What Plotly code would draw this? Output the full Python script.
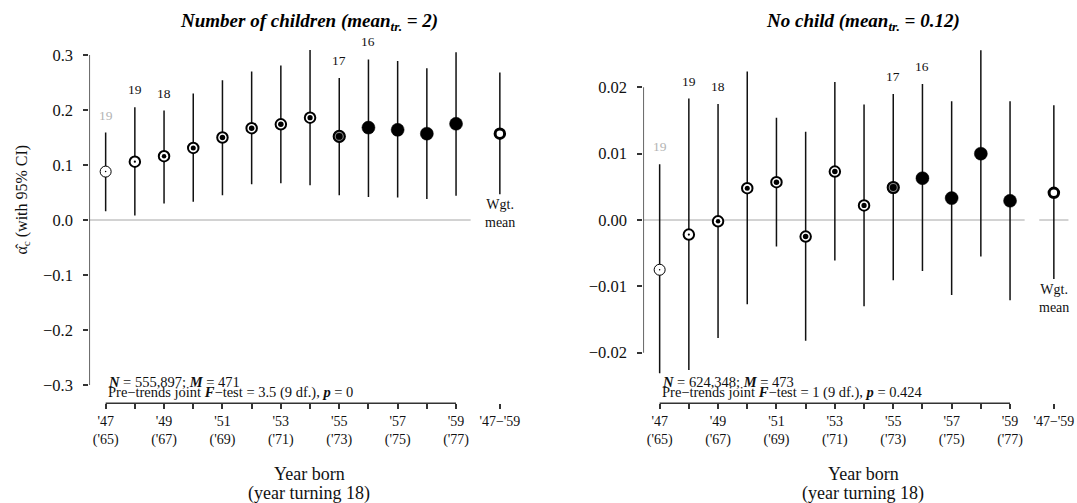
import plotly.graph_objects as go

W, H = 1077, 503

# ---- data -----------------------------------------------------------------
cohorts = list(range(13))                      # 1947 ... 1959
born_labels = ["'47", "'48", "'49", "'50", "'51", "'52", "'53",
               "'54", "'55", "'56", "'57", "'58", "'59"]
turn18_labels = ["('65)", "('66)", "('67)", "('68)", "('69)", "('70)", "('71)",
                 "('72)", "('73)", "('74)", "('75)", "('76)", "('77)"]
pooled_label = "'47\u2212'59"

# Number of children
kids_est = [0.088, 0.106, 0.116, 0.131, 0.150, 0.167, 0.174,
            0.186, 0.152, 0.168, 0.164, 0.157, 0.175]
kids_lo = [0.016, 0.008, 0.030, 0.033, 0.045, 0.065, 0.067,
           0.063, 0.045, 0.042, 0.041, 0.038, 0.044]
kids_hi = [0.159, 0.205, 0.199, 0.230, 0.254, 0.270, 0.281,
           0.309, 0.258, 0.292, 0.289, 0.276, 0.305]
kids_wgt = [0.157, 0.047, 0.268]               # estimate, lower, upper

# No child
nochild_est = [-0.0075, -0.0022, -0.0002, 0.0048, 0.0057, -0.0025, 0.0073,
               0.0022, 0.0049, 0.0063, 0.0033, 0.0100, 0.0029]
nochild_lo = [-0.0231, -0.0226, -0.0178, -0.0127, -0.0040, -0.0182, -0.0061,
              -0.0130, -0.0091, -0.0077, -0.0113, -0.0055, -0.0121]
nochild_hi = [0.0084, 0.0183, 0.0175, 0.0224, 0.0154, 0.0133, 0.0208,
              0.0174, 0.0190, 0.0205, 0.0179, 0.0256, 0.0179]
nochild_wgt = [0.0041, -0.0089, 0.0173]

# counts printed above selected cohorts
count_cohorts = [0, 1, 2, 8, 9]
count_text = ["19", "19", "18", "17", "16"]

kids_ticks = [-0.3, -0.2, -0.1, 0.0, 0.1, 0.2, 0.3]
kids_ticktext = ["\u22120.3", "\u22120.2", "\u22120.1", "0.0", "0.1", "0.2", "0.3"]
nochild_ticks = [-0.02, -0.01, 0.0, 0.01, 0.02]
nochild_ticktext = ["\u22120.02", "\u22120.01", "0.00", "0.01", "0.02"]

kids_stats = ["<b><i>N</i></b> = 555,897; <b><i>M</i></b> = 471",
              "Pre\u2212trends joint <b><i>F</i></b>\u2212test = 3.5 (9 df.), <b><i>p</i></b> = 0"]
nochild_stats = ["<b><i>N</i></b> = 624,348; <b><i>M</i></b> = 473",
                 "Pre\u2212trends joint <b><i>F</i></b>\u2212test = 1 (9 df.), <b><i>p</i></b> = 0.424"]

# ---- marker styling per cohort (ring + centre dot) -------------------------
ring_size = [11, 10.5, 10.5, 10.5, 10.5, 10.5, 10.5, 10.5, 12, 13, 13, 13, 13]
ring_fill = ["white"] * 8 + ["black"] * 5
ring_line = [1, 2, 2, 2, 2, 2, 2, 2, 1.2, 0.5, 0.5, 0.5, 0.5]
dot_size = [1.5, 2.2, 4.5, 5, 5.5, 5.5, 5.5, 5.2, 8, 0, 0, 0, 0]
dot_line_col = ["black"] * 8 + ["#8a8a8a"] + ["black"] * 4
dot_line_w = [0] * 8 + [1.1] + [0] * 4

SERIF = "Liberation Serif, Times New Roman, serif"
INK = "#111111"
AXC = "#333333"

# ---- geometry ---------------------------------------------------------------
PX_PER_YR = 29.2
X0, X1 = -0.56, 14.2
TOP_PX, BOT_PX = 30.0, 403.3
panels = [
    dict(ax="", left_px=89.3, zero_px=220.0, scale=550.0,
         est=kids_est, lo=kids_lo, hi=kids_hi, wgt=kids_wgt,
         ticks=kids_ticks, ticktext=kids_ticktext, stats=kids_stats,
         title="<b><i>Number of children (mean<sub>tr.</sub> = 2)</i></b>"),
    dict(ax="2", left_px=643.3, zero_px=220.0, scale=6633.0,
         est=nochild_est, lo=nochild_lo, hi=nochild_hi, wgt=nochild_wgt,
         ticks=nochild_ticks, ticktext=nochild_ticktext, stats=nochild_stats,
         title="<b><i>No child (mean<sub>tr.</sub> = 0.12)</i></b>"),
]


def py(px):
    return 1 - px / H


fig = go.Figure()
shapes, annotations = [], []

tickvals_x = cohorts + [13.5]
ticktext_x = [(born_labels[i] + "<br>" + turn18_labels[i]) if i % 2 == 0 else ""
              for i in cohorts] + [pooled_label]

for p in panels:
    xa, ya = "x" + p["ax"], "y" + p["ax"]
    est, lo, hi = p["est"], p["lo"], p["hi"]
    w_est, w_lo, w_hi = p["wgt"]

    # confidence intervals
    cx, cy = [], []
    for i in cohorts:
        cx += [i, i, None]
        cy += [lo[i], hi[i], None]
    cx += [13.5, 13.5]
    cy += [w_lo, w_hi]
    fig.add_trace(go.Scatter(x=cx, y=cy, mode="lines", xaxis=xa, yaxis=ya,
                             line=dict(color=INK, width=1.5),
                             hoverinfo="skip", showlegend=False, cliponaxis=False))
    # rings
    fig.add_trace(go.Scatter(x=cohorts, y=est, mode="markers", xaxis=xa, yaxis=ya,
                             marker=dict(symbol="circle", size=ring_size, color=ring_fill,
                                         opacity=1,
                                         line=dict(color="black", width=ring_line)),
                             showlegend=False, cliponaxis=False))
    # centre dots
    fig.add_trace(go.Scatter(x=cohorts, y=est, mode="markers", xaxis=xa, yaxis=ya,
                             marker=dict(symbol="circle", size=dot_size, color="black",
                                         opacity=1,
                                         line=dict(color=dot_line_col, width=dot_line_w)),
                             showlegend=False, cliponaxis=False))
    # weighted mean
    fig.add_trace(go.Scatter(x=[13.5], y=[w_est], mode="markers", xaxis=xa, yaxis=ya,
                             marker=dict(symbol="circle", size=9.5, color="white", opacity=1,
                                         line=dict(color="black", width=3)),
                             showlegend=False, cliponaxis=False))

    # axis lines and reference line
    yt = p["ticks"]
    shapes.append(dict(type="line", xref=xa, yref=ya, x0=X0, x1=X0, y0=yt[0], y1=yt[-1],
                       line=dict(color=AXC, width=1.5), layer="above"))
    shapes.append(dict(type="line", xref=xa, yref=ya + " domain", x0=0, x1=12, y0=0, y1=0,
                       line=dict(color=AXC, width=1.5), layer="above"))
    shapes.append(dict(type="line", xref=xa, yref=ya, x0=X0, x1=12.5, y0=0, y1=0,
                       line=dict(color="#a6a6a6", width=1), layer="below"))
    shapes.append(dict(type="line", xref=xa, yref=ya, x0=13.0, x1=14.0, y0=0, y1=0,
                       line=dict(color="#a6a6a6", width=1), layer="below"))

    # counts above intervals
    for k, i in enumerate(count_cohorts):
        annotations.append(dict(x=i, y=hi[i], xref=xa, yref=ya, text=count_text[k],
                                showarrow=False, yshift=17.5, xanchor="center", yanchor="middle",
                                font=dict(family=SERIF, size=13.5,
                                          color="#b3b3b3" if k == 0 else INK)))
    # weighted-mean label
    annotations.append(dict(x=13.5, y=w_lo, xref=xa, yref=ya, text="Wgt.<br>mean",
                            showarrow=False, yshift=-19, xanchor="center", yanchor="middle",
                            bgcolor="white", borderpad=0,
                            font=dict(family=SERIF, size=14, color=INK)))
    # sample statistics
    annotations.append(dict(x=0, y=py(381.5), xref=xa, yref="paper", text=p["stats"][0],
                            showarrow=False, xanchor="left", yanchor="middle",
                            font=dict(family=SERIF, size=14.5, color=INK)))
    annotations.append(dict(x=0, y=py(392.2), xref=xa, yref="paper", text=p["stats"][1],
                            showarrow=False, xanchor="left", yanchor="middle",
                            font=dict(family=SERIF, size=14.5, color=INK)))
    # panel title and x title
    cx_px = p["left_px"] + 220
    annotations.append(dict(x=cx_px / W, y=py(22), xref="paper", yref="paper", text=p["title"],
                            showarrow=False, xanchor="center", yanchor="middle",
                            font=dict(family=SERIF, size=19, color="black")))
    annotations.append(dict(x=cx_px / W, y=py(473.5), xref="paper", yref="paper",
                            text="Year born", showarrow=False, xanchor="center", yanchor="middle",
                            font=dict(family=SERIF, size=18, color=INK)))
    annotations.append(dict(x=cx_px / W, y=py(493.5), xref="paper", yref="paper",
                            text="(year turning 18)", showarrow=False, xanchor="center",
                            yanchor="middle", font=dict(family=SERIF, size=18, color=INK)))

    # axes
    right_px = p["left_px"] + (X1 - X0) * PX_PER_YR
    ytop = (p["zero_px"] - TOP_PX) / p["scale"]
    ybot = (p["zero_px"] - BOT_PX) / p["scale"]
    fig.layout["xaxis" + p["ax"]] = dict(
        domain=[p["left_px"] / W, right_px / W], range=[X0, X1], anchor=ya,
        showgrid=False, zeroline=False, showline=False,
        tickmode="array", tickvals=tickvals_x, ticktext=ticktext_x,
        ticks="outside", ticklen=5, tickwidth=1.5, tickcolor=AXC,
        ticklabelstandoff=0,
        tickfont=dict(family=SERIF, size=14, color=INK), fixedrange=True)
    fig.layout["yaxis" + p["ax"]] = dict(
        domain=[py(BOT_PX), py(TOP_PX)], range=[ybot, ytop], anchor=xa,
        showgrid=False, zeroline=False, showline=False,
        tickmode="array", tickvals=p["ticks"], ticktext=p["ticktext"],
        ticks="outside", ticklen=5, tickwidth=1.5, tickcolor=AXC,
        ticklabelstandoff=7,
        tickfont=dict(family=SERIF, size=16.5, color=INK), fixedrange=True)

# y-axis title
annotations.append(dict(x=22.6 / W, y=py(200), xref="paper", yref="paper",
                        text="\u03b1\u0302<sub>c</sub> (with 95% CI)", textangle=-90,
                        showarrow=False, xanchor="center", yanchor="middle",
                        font=dict(family=SERIF, size=16, color=INK)))

fig.update_layout(
    width=W, height=H, margin=dict(l=0, r=0, t=0, b=0),
    paper_bgcolor="white", plot_bgcolor="white",
    shapes=shapes, annotations=annotations, showlegend=False,
)

fig.write_html("out.html")
